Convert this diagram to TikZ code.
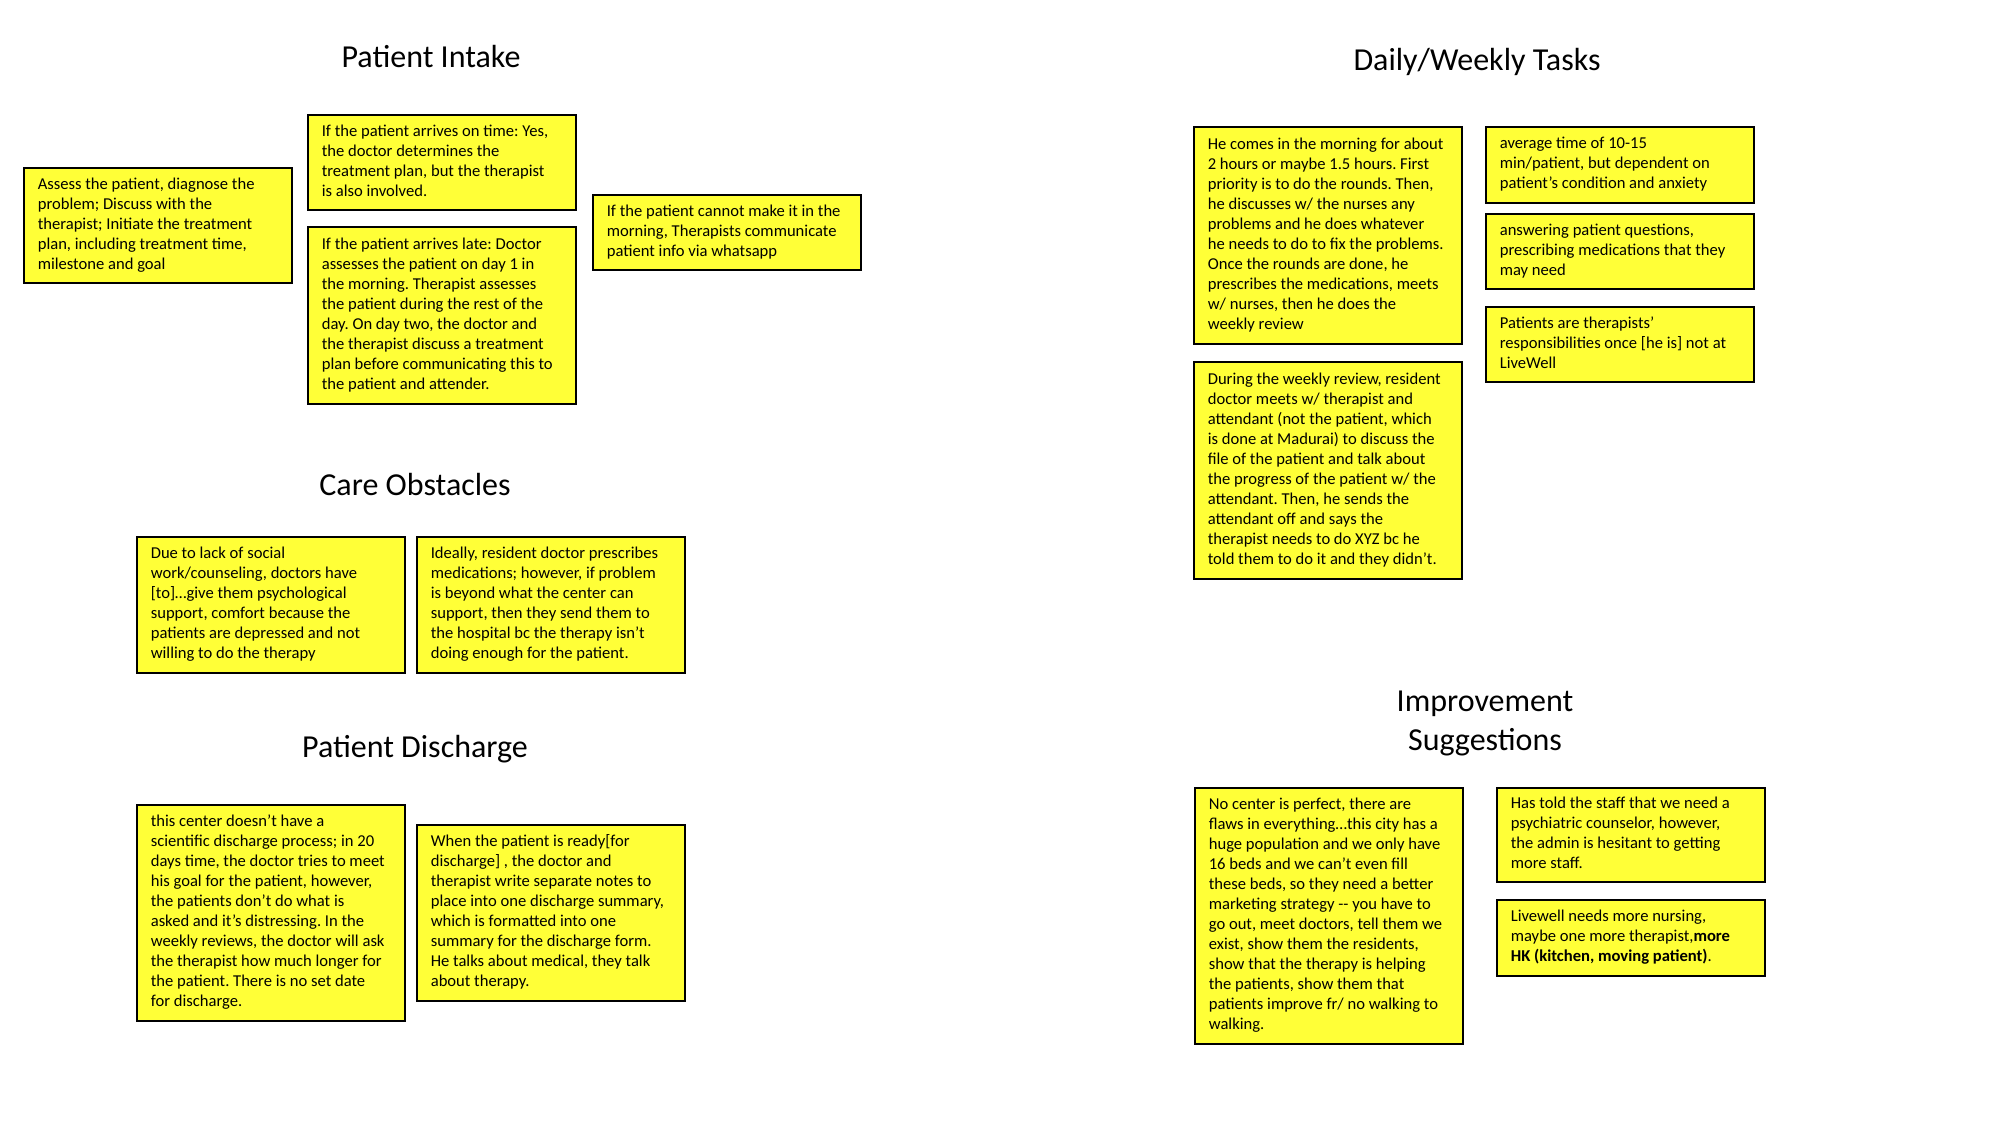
\documentclass[tikz,border=0pt]{standalone}
\usepackage{fontspec}
\setmainfont{Carlito}
\frenchspacing
\definecolor{sticky}{RGB}{255,255,55}
\newcommand\notetext[1]{\makebox[120pt][l]{\begin{tabular}{@{}l@{}}#1\end{tabular}}}
\tikzset{
  note/.style={draw=black, line width=0.8pt, fill=sticky, anchor=north west,
    inner xsep=7pt, inner ysep=0pt,
    font=\fontsize{8.3}{10}\selectfont},
  title/.style={anchor=base, inner sep=0pt, font=\fontsize{16}{19.5}\selectfont, align=center}
}
\begin{document}
\begin{tikzpicture}[x=0.5pt,y=-0.5pt]
\useasboundingbox (0,0) rectangle (2000,1125);
% Titles
\node[title] (tIntake) at (431,67) {Patient Intake};
\node[title] (tCare) at (415,495) {Care Obstacles};
\node[title] (tDischarge) at (415,757) {Patient Discharge};
\node[title] (tDaily) at (1477,70) {Daily/Weekly Tasks};
\node[title, anchor=center] (tImprove) at (1485,723) {Improvement\\Suggestions};
% Patient Intake
\node[note, minimum height=57.5pt] (assess) at (23,167) {\notetext{Assess the patient, diagnose the\\problem; Discuss with the\\therapist; Initiate the treatment\\plan, including treatment time,\\milestone and goal}};
\node[note, minimum height=47.5pt] (ontime) at (307,114) {\notetext{If the patient arrives on time: Yes,\\the doctor determines the\\treatment plan, but the therapist\\is also involved.}};
\node[note, minimum height=88.5pt] (late) at (307,226) {\notetext{If the patient arrives late: Doctor\\assesses the patient on day 1 in\\the morning. Therapist assesses\\the patient during the rest of the\\day. On day two, the doctor and\\the therapist discuss a treatment\\plan before communicating this to\\the patient and attender.}};
\node[note, minimum height=37.5pt] (whatsapp) at (592,194) {\notetext{If the patient cannot make it in the\\morning, Therapists communicate\\patient info via whatsapp}};
% Care Obstacles
\node[note, minimum height=68pt] (due) at (136,536) {\notetext{Due to lack of social\\work/counseling, doctors have\\{[to]}…give them psychological\\support, comfort because the\\patients are depressed and not\\willing to do the therapy}};
\node[note, minimum height=68pt] (ideally) at (416,536) {\notetext{Ideally, resident doctor prescribes\\medications; however, if problem\\is beyond what the center can\\support, then they send them to\\the hospital bc the therapy isn’t\\doing enough for the patient.}};
% Patient Discharge
\node[note, minimum height=108pt] (center) at (136,804) {\notetext{this center doesn’t have a\\scientific discharge process; in 20\\days time, the doctor tries to meet\\his goal for the patient, however,\\the patients don’t do what is\\asked and it’s distressing. In the\\weekly reviews, the doctor will ask\\the therapist how much longer for\\the patient. There is no set date\\for discharge.}};
\node[note, minimum height=88pt] (when) at (416,824) {\notetext{When the patient is ready[for\\discharge] , the doctor and\\therapist write separate notes to\\place into one discharge summary,\\which is formatted into one\\summary for the discharge form.\\He talks about medical, they talk\\about therapy.}};
% Daily/Weekly Tasks
\node[note, minimum height=108.5pt] (comes) at (1193,126) {\notetext{He comes in the morning for about\\2 hours or maybe 1.5 hours. First\\priority is to do the rounds. Then,\\he discusses w/ the nurses any\\problems and he does whatever\\he needs to do to fix the problems.\\Once the rounds are done, he\\prescribes the medications, meets\\w/ nurses, then he does the\\weekly review}};
\node[note, minimum height=108.5pt] (during) at (1193,361) {\notetext{During the weekly review, resident\\doctor meets w/ therapist and\\attendant (not the patient, which\\is done at Madurai) to discuss the\\file of the patient and talk about\\the progress of the patient w/ the\\attendant. Then, he sends the\\attendant off and says the\\therapist needs to do XYZ bc he\\told them to do it and they didn’t.}};
\node[note, minimum height=38pt] (average) at (1485,126) {\notetext{average time of 10-15\\min/patient, but dependent on\\patient’s condition and anxiety}};
\node[note, minimum height=37.5pt] (answering) at (1485,213) {\notetext{answering patient questions,\\prescribing medications that they\\may need}};
\node[note, minimum height=37.5pt] (patients) at (1485,306) {\notetext{Patients are therapists’\\responsibilities once [he is] not at\\LiveWell}};
% Improvement Suggestions
\node[note, minimum height=128pt] (nocenter) at (1194,787) {\notetext{No center is perfect, there are\\flaws in everything…this city has a\\huge population and we only have\\16 beds and we can’t even fill\\these beds, so they need a better\\marketing strategy -{}- you have to\\go out, meet doctors, tell them we\\exist, show them the residents,\\show that the therapy is helping\\the patients, show them that\\patients improve fr/ no walking to\\walking.}};
\node[note, minimum height=47pt] (hastold) at (1496,787) {\notetext{Has told the staff that we need a\\psychiatric counselor, however,\\the admin is hesitant to getting\\more staff.}};
\node[note, minimum height=38pt] (livewell) at (1496,899) {\notetext{Livewell needs more nursing,\\maybe one more therapist,\textbf{more}\\\textbf{HK (kitchen, moving patient)}.}};
\end{tikzpicture}
\end{document}
